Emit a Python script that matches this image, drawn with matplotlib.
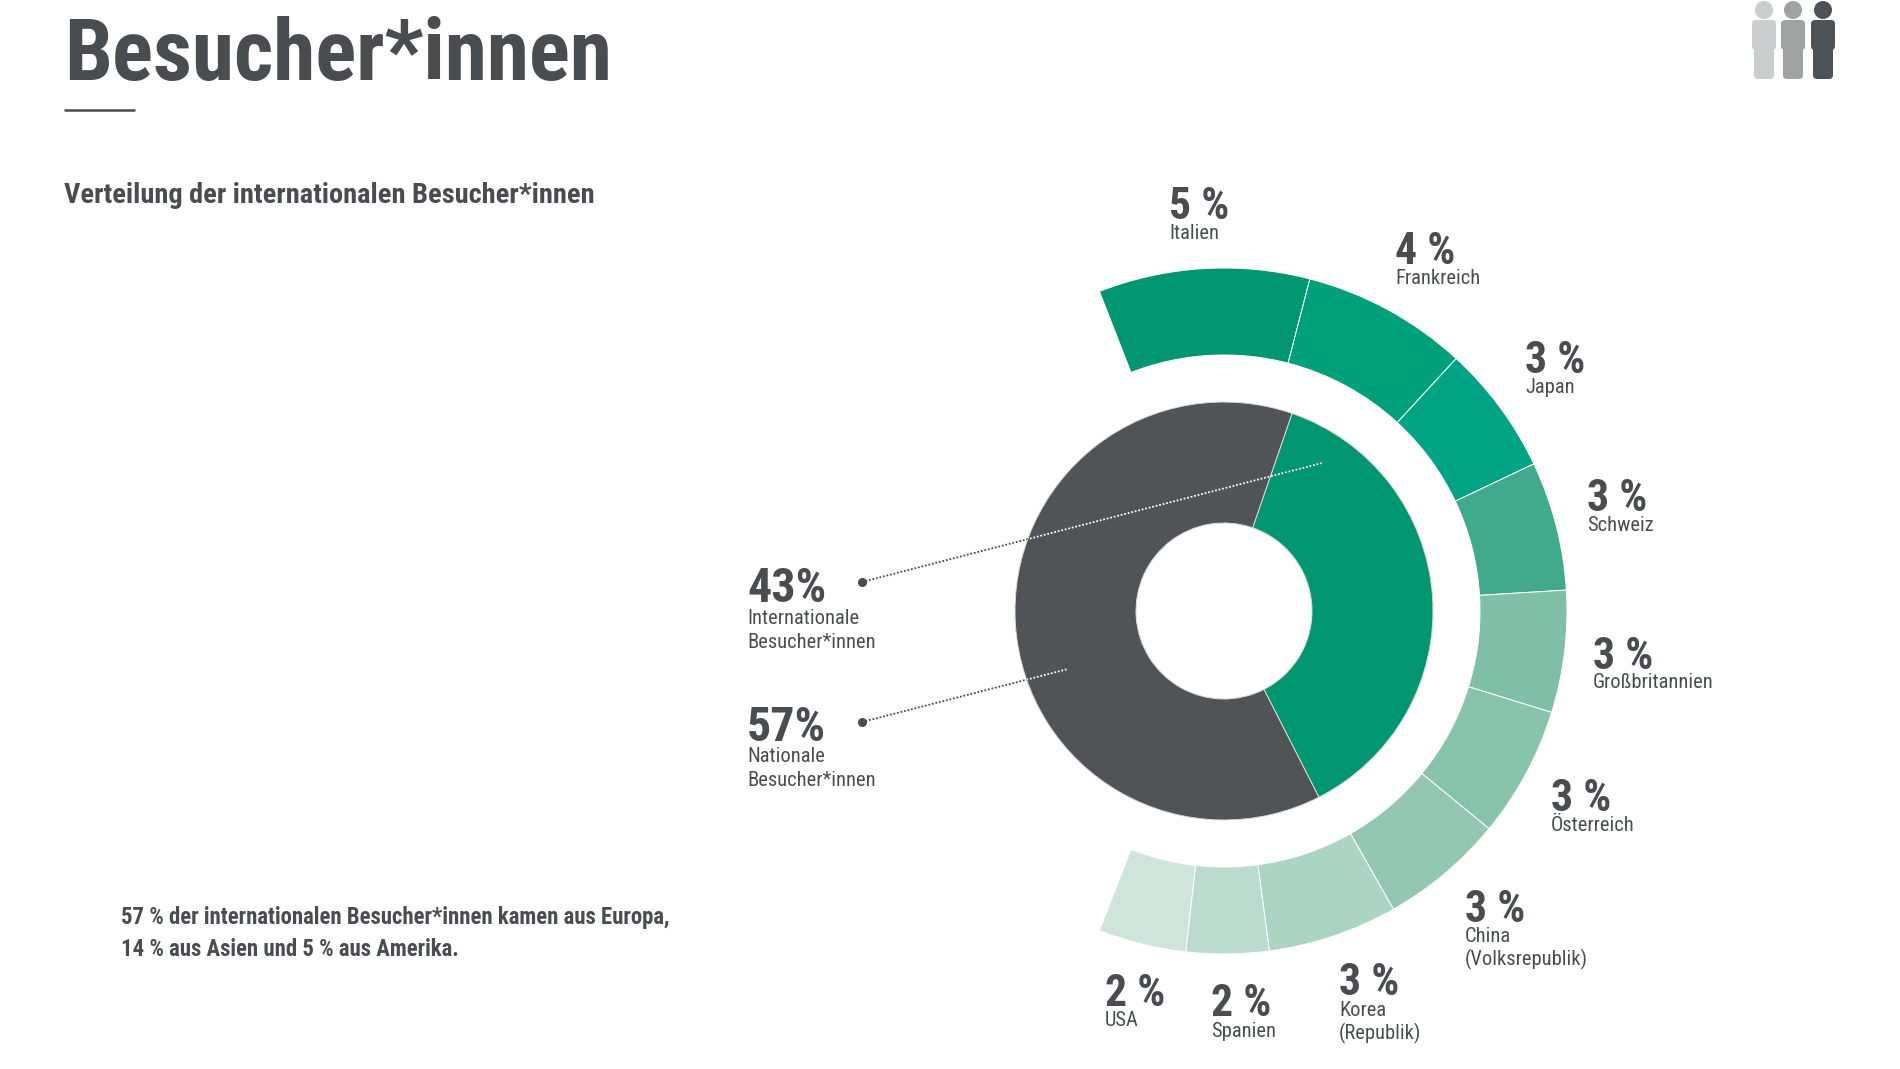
import matplotlib
matplotlib.use("Agg")
import matplotlib.pyplot as plt
from matplotlib.patches import Circle, FancyBboxPatch

W, H = 1900, 1069
CX, CY = 1224, 611  # donut centre in pixels, y from top

plt.rcParams['font.family'] = ['Roboto Condensed', 'DejaVu Sans']

# labels as printed
countries = ["Italien", "Frankreich", "Japan", "Schweiz", "Großbritannien", "Österreich",
             "China\n(Volksrepublik)", "Korea\n(Republik)", "Spanien", "USA"]
country_pct = ["5 %", "4 %", "3 %", "3 %", "3 %", "3 %", "3 %", "3 %", "2 %", "2 %"]
inner_pct = ["43%", "57%"]
inner_names = ["Internationale\nBesucher*innen", "Nationale\nBesucher*innen"]

# drawn arc sizes, degrees
country_arc = [35.8, 28.1, 22.0, 21.9, 20.7, 22.2, 21.0, 22.0, 14.0, 14.9]
inner_arc = [134, 226]

country_colors = ["#00966F", "#00A07A", "#00A384", "#42AA8C", "#7FBFA7",
                  "#88C3AC", "#94C7B2", "#ABD4C3", "#BBDBCE", "#CFE5DB"]
inner_colors = ["#00966F", "#505457"]
TEXT = "#4A4D50"

# label anchors: x, baseline of the percent
country_pos = [(1169, 219), (1395, 264), (1525, 373), (1587, 511), (1593, 669),
               (1551, 811), (1465, 922), (1339, 995), (1211, 1016), (1105, 1006)]
name_gap = [20, 20, 20, 20, 19, 20, 20, 21, 21, 20]
inner_pos = [(747, 602), (747, 741)]
inner_gap = [22, 21]


def y_(py):
    return H - py


fig = plt.figure(figsize=(19, 10.69), dpi=100)
ax = fig.add_axes([0, 0, 1, 1])

outer, _ = ax.pie(country_arc + [360 - sum(country_arc)], radius=343, center=(CX, y_(CY)),
                  startangle=111.3, counterclock=False, colors=country_colors + ["white"],
                  wedgeprops=dict(width=87, edgecolor="white", linewidth=0.7))
outer[-1].set_visible(False)

ax.pie(inner_arc, radius=209, center=(CX, y_(CY)), startangle=71, counterclock=False,
       colors=inner_colors, wedgeprops=dict(width=121, edgecolor="#d8dadb", linewidth=0.7))

ax.set_xlim(0, W)
ax.set_ylim(0, H)
ax.axis("off")

# leader lines, white over the donut
leaders = [((862, 582), (1322, 463)), ((862, 722), (1068, 669))]
clip = Circle((CX, y_(CY)), 209, transform=ax.transData)
for a, b in leaders:
    xs, ys = [a[0], b[0]], [y_(a[1]), y_(b[1])]
    ax.plot(xs, ys, ls=(0, (1, 1)), lw=1.3, color=TEXT, zorder=4)
    white, = ax.plot(xs, ys, ls=(0, (1, 1)), lw=1.3, color="white", zorder=5)
    white.set_clip_path(clip)
    ax.plot(xs[0], ys[0], "o", ms=5.5, color=TEXT, zorder=6)

for (x, y), pct, name, gap in zip(country_pos, country_pct, countries, name_gap):
    ax.text(x, y_(y), pct, fontsize=31.5, fontweight="bold", color=TEXT, va="baseline")
    for i, line in enumerate(name.split("\n")):
        ax.text(x, y_(y + gap + i * 23), line, fontsize=14.8, color=TEXT, va="baseline")

for (x, y), pct, name, gap in zip(inner_pos, inner_pct, inner_names, inner_gap):
    ax.text(x, y_(y), pct, fontsize=34.5, fontweight="bold", color=TEXT, va="baseline")
    for i, line in enumerate(name.split("\n")):
        ax.text(x, y_(y + gap + i * 23.5), line, fontsize=14.8, color=TEXT, va="baseline")

ax.text(64, y_(80), "Besucher*innen", fontsize=61.6, fontweight="bold", color=TEXT, va="baseline")
ax.plot([64, 135], [y_(110), y_(110)], color=TEXT, lw=1.8, solid_capstyle="butt")
ax.text(64, y_(203), "Verteilung der internationalen Besucher*innen", fontsize=20.4,
        fontweight="bold", color=TEXT, va="baseline")
ax.text(121, y_(924), "57 % der internationalen Besucher*innen kamen aus Europa,", fontsize=16.4,
        fontweight="bold", color=TEXT, va="baseline")
ax.text(121, y_(956), "14 % aus Asien und 5 % aus Amerika.", fontsize=16.4,
        fontweight="bold", color=TEXT, va="baseline")

# person icons, top right
for dx, col in zip([0, 29, 59], ["#CBCCCD", "#A0A1A2", "#4E5256"]):
    ax.add_patch(Circle((1764 + dx, y_(10)), 9, color=col, lw=0))
    ax.add_patch(FancyBboxPatch((1752 + dx, y_(50)), 24, 30, boxstyle="round,pad=0,rounding_size=4",
                                fc=col, ec="none"))
    ax.add_patch(FancyBboxPatch((1754 + dx, y_(79)), 20, 45, boxstyle="round,pad=0,rounding_size=4",
                                fc=col, ec="none"))

fig.savefig("out.png", dpi=100, facecolor="white")
